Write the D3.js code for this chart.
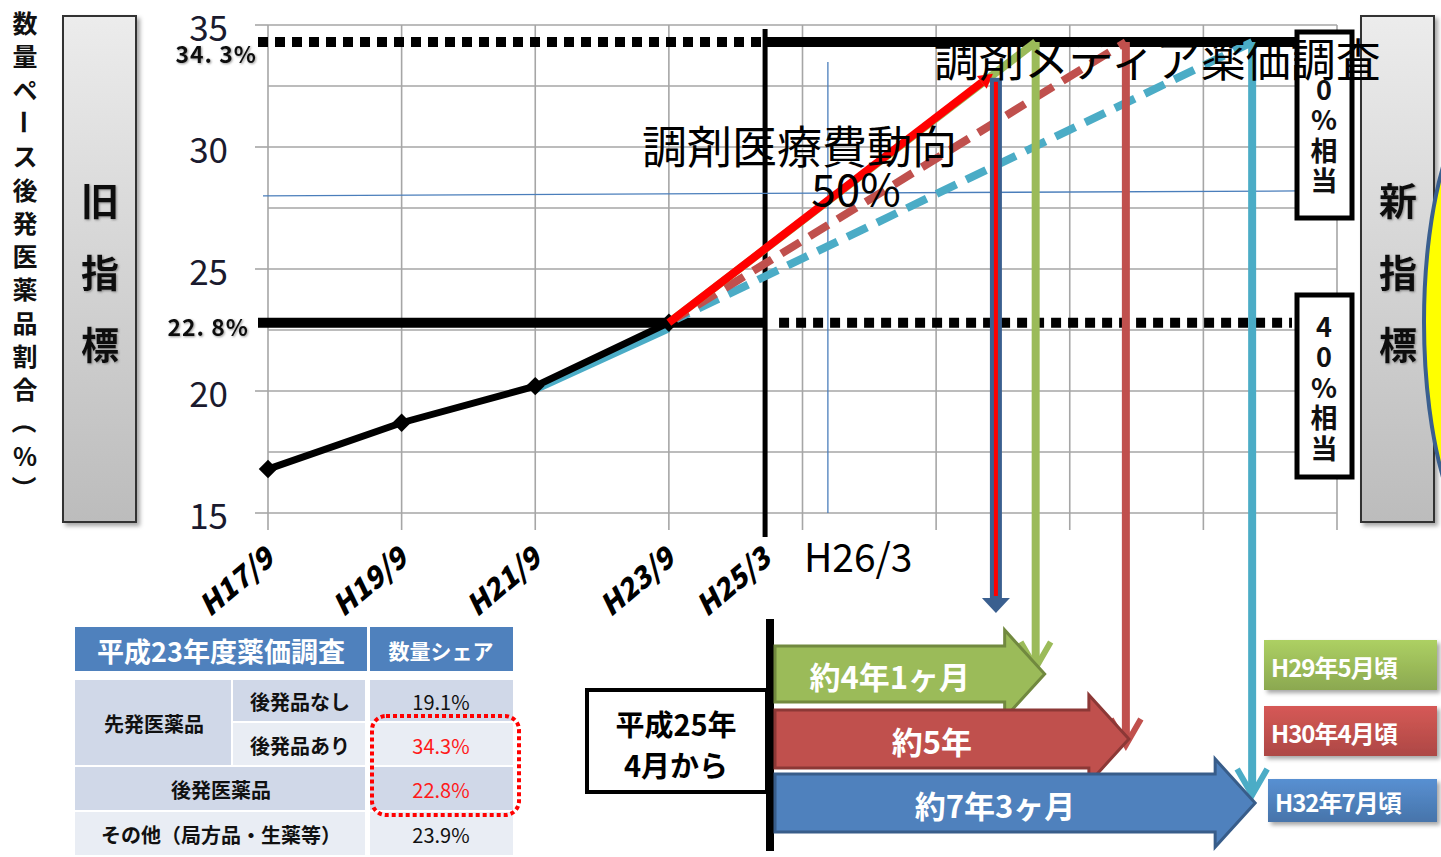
<!DOCTYPE html>
<html><head><meta charset="utf-8">
<script src="https://cdn.jsdelivr.net/npm/d3@7"></script>
<style>
body{margin:0;background:#fff;}
svg{display:block;}
text{font-family:"Noto Sans CJK JP","Noto Sans",sans-serif;}
</style>
</head><body>
<svg id="c" width="1441" height="857"></svg>
<script>
// ---------------- data ----------------
const actualTimes  = [17.75, 19.75, 21.75, 23.75];      // H17/9 .. H23/9 (Heisei year + month/12)
const actualValues = [16.8, 18.7, 20.2, 22.8];
const xTickLabels  = ["H17/9", "H19/9", "H21/9", "H23/9", "H25/3"];
const xTickTimes   = [17.75, 19.75, 21.75, 23.75, 25.19];
const gridTimes    = [17.75, 19.75, 21.75, 23.75, 25.75, 27.75, 29.75, 31.75, 33.75];
const yTickValues  = [15, 20, 25, 30, 35];
const yGridValues  = [15, 17.5, 20, 22.5, 25, 27.5, 30, 32.5, 35];
const oldTargetValues = [34.3, 22.8];
const oldTargetLabels = ["34. 3%", "22. 8%"];
const newTargetLabels = ["0%相当", "40%相当"];
const startTime = 25.19;      // H25/3
const h26Time   = 26.13;      // H26/3
const guideValues = [28.0, 28.2];
const trendStart = [23.75, 22.8];
const cyanBase = [[21.75, 20.05], [23.75, 22.55]];
const medFeeEnd = [28.6, 33.0];          // 調剤医療費動向 line end
const trendNames     = ["約4年1ヶ月", "約5年", "約7年3ヶ月"];
const trendEndTimes  = [29.24, 30.59, 32.48];
const trendEndLabels = ["H29年5月頃", "H30年4月頃", "H32年7月頃"];
const trendColors    = ["#9bbb59", "#c0504d", "#4bacc6"];
const bandColors     = ["#9bbb59", "#c0504d", "#4f81bd"];
const bandStrokes    = ["#71893f", "#8c3836", "#385d8a"];
const tableHeader = ["平成23年度薬価調査", "数量シェア"];
const tableLabels = ["後発品なし", "後発品あり", "後発医薬品", "その他（局方品・生薬等）"];
const tableShares = ["19.1%", "34.3%", "22.8%", "23.9%"];
const tableShareColors = ["#111", "#ff1a1a", "#ff1a1a", "#111"];
const yTitleChars = ["数","量","ペ","ー","ス","後","発","医","薬","品","割","合","（","%","）"];

// ---------------- setup ----------------
const svg = d3.select("#c");
const x = d3.scaleLinear().domain([17.75, 33.75]).range([268, 1337]);
const y = d3.scaleLinear().domain([15, 35]).range([513, 25]);
const defs = svg.append("defs");

const panelGrad = defs.append("linearGradient").attr("id","panelGrad").attr("x1",0).attr("y1",0).attr("x2",0).attr("y2",1);
panelGrad.append("stop").attr("offset","0%").attr("stop-color","#ececec");
panelGrad.append("stop").attr("offset","100%").attr("stop-color","#bcbcbc");
const shadow = defs.append("filter").attr("id","shadow").attr("x","-20%").attr("y","-20%").attr("width","140%").attr("height","140%");
shadow.append("feDropShadow").attr("dx",3).attr("dy",3).attr("stdDeviation",2).attr("flood-color","#000").attr("flood-opacity",0.35);
const glow = defs.append("filter").attr("id","glow");
glow.append("feDropShadow").attr("dx",1).attr("dy",1).attr("stdDeviation",1.2).attr("flood-color","#555").attr("flood-opacity",0.6);

["#9bbb59","#c0504d","#4f81bd"].forEach((c,i)=>{
  const g = defs.append("linearGradient").attr("id","lab"+i).attr("x1",0).attr("y1",0).attr("x2",0).attr("y2",1);
  g.append("stop").attr("offset","0%").attr("stop-color",d3.color(c).brighter(0.3));
  g.append("stop").attr("offset","100%").attr("stop-color",d3.color(c).darker(0.3));
});

// ---------------- side panels ----------------
function panel(x0, chars) {
  svg.append("rect").attr("x",x0).attr("y",16).attr("width",73).attr("height",506)
    .attr("fill","url(#panelGrad)").attr("stroke","#333").attr("stroke-width",2).attr("filter","url(#shadow)");
  chars.forEach((ch,i)=>{
    svg.append("text").attr("x",x0+37).attr("y",198+i*72).attr("text-anchor","middle").attr("dominant-baseline","central")
      .attr("font-size",38).attr("font-weight",700).attr("fill","#111").attr("filter","url(#glow)").text(ch);
  });
}
panel(63, ["旧","指","標"]);
panel(1361, ["新","指","標"]);
// yellow ellipse (right), overlapping the panel
svg.append("ellipse").attr("cx",1500).attr("cy",322).attr("rx",76).attr("ry",235)
  .attr("fill","#ffff00").attr("stroke","#3a5f8f").attr("stroke-width",4);

// y title
yTitleChars.forEach((ch,i)=>{
  const rot = (ch==="ー"||ch==="（"||ch==="）");
  const cy = 22+i*33.3;
  svg.append("text").attr("transform",`translate(25,${cy})${rot?" rotate(90)":""}`)
    .attr("text-anchor","middle").attr("dominant-baseline","central")
    .attr("font-size",25).attr("font-weight",700).attr("fill","#111").text(ch);
});

// ---------------- grid ----------------
const grid = svg.append("g");
grid.selectAll(".hg").data(yGridValues).join("line")
  .attr("x1",x(17.75)).attr("x2",x(33.75)).attr("y1",d=>y(d)).attr("y2",d=>y(d))
  .attr("stroke","#a6a6a6").attr("stroke-width",1.6);
grid.selectAll(".vg").data(gridTimes).join("line")
  .attr("x1",d=>x(d)).attr("x2",d=>x(d)).attr("y1",y(35)).attr("y2",y(15)+17)
  .attr("stroke","#a6a6a6").attr("stroke-width",1.6);
grid.selectAll(".yt").data(yTickValues).join("line")
  .attr("x1",x(17.75)-13).attr("x2",x(17.75)).attr("y1",d=>y(d)).attr("y2",d=>y(d))
  .attr("stroke","#a6a6a6").attr("stroke-width",1.6);

// y tick labels
svg.selectAll(".ylab").data(yTickValues).join("text")
  .attr("x",228).attr("y",d=>y(d)).attr("text-anchor","end").attr("dominant-baseline","central")
  .attr("font-family","Lato, sans-serif").attr("font-size",35).attr("fill","#1a1a2e").text(d=>d);

// x tick labels
xTickLabels.forEach((t,i)=>{
  const px = x(xTickTimes[i]) + 8;
  svg.append("text").attr("transform",`translate(${px},562) rotate(-40)`).attr("text-anchor","end")
    .attr("font-family","Lato, sans-serif").attr("font-size",29).attr("font-weight",900).attr("font-style","italic")
    .attr("fill","#000").text(t);
});

// ---------------- target lines ----------------
const xs = x(startTime);
svg.append("line").attr("x1",x(17.75)-10).attr("x2",xs).attr("y1",y(34.3)).attr("y2",y(34.3))
  .attr("stroke","#000").attr("stroke-width",10).attr("stroke-dasharray","10,7");
svg.append("line").attr("x1",xs).attr("x2",1296).attr("y1",y(34.3)).attr("y2",y(34.3))
  .attr("stroke","#000").attr("stroke-width",10);
svg.append("line").attr("x1",x(17.75)-10).attr("x2",xs).attr("y1",y(22.8)).attr("y2",y(22.8))
  .attr("stroke","#000").attr("stroke-width",10);
svg.append("line").attr("x1",xs+14).attr("x2",1292).attr("y1",y(22.8)).attr("y2",y(22.8))
  .attr("stroke","#000").attr("stroke-width",10).attr("stroke-dasharray","10,7");
svg.append("line").attr("x1",xs).attr("x2",xs).attr("y1",y(35)+4).attr("y2",y(15)+24)
  .attr("stroke","#000").attr("stroke-width",5);

oldTargetValues.forEach((v,i)=>{
  svg.append("text").attr("x", i===0?257:249).attr("y",y(v)+(i===0?11:3)).attr("text-anchor","end").attr("dominant-baseline","central")
    .attr("font-size",23).attr("font-weight",700).attr("fill","#111").attr("letter-spacing",1).attr("filter","url(#glow)").text(oldTargetLabels[i]);
});

// thin blue guide lines
svg.append("line").attr("x1",263).attr("x2",1300).attr("y1",y(guideValues[0])).attr("y2",y(guideValues[1]))
  .attr("stroke","#4a7ebb").attr("stroke-width",1.3);
svg.append("line").attr("x1",x(h26Time)).attr("x2",x(h26Time)).attr("y1",62).attr("y2",y(15))
  .attr("stroke","#4a7ebb").attr("stroke-width",1.3);
svg.append("text").attr("x",x(h26Time)-24).attr("y",572).attr("font-family","Liberation Sans, Arial, sans-serif")
  .attr("font-size",39).attr("fill","#000").text("H26/3");

// ---------------- trend lines ----------------
const line = d3.line().x(d=>x(d[0])).y(d=>y(d[1]));
svg.append("path").attr("d",line(cyanBase)).attr("stroke",trendColors[2]).attr("stroke-width",7).attr("fill","none");
[2,1,0].forEach(i=>{
  svg.append("path").attr("d",line([trendStart,[trendEndTimes[i],34.3]]))
    .attr("stroke",trendColors[i]).attr("stroke-width",8).attr("fill","none")
    .attr("stroke-dasharray", i===0 ? "none" : "22,11");
});
svg.append("path").attr("d",line(actualTimes.map((t,i)=>[t,actualValues[i]])))
  .attr("stroke","#000").attr("stroke-width",7).attr("fill","none");
svg.selectAll(".dia").data(actualTimes).join("path")
  .attr("d",d3.symbol(d3.symbolSquare,170))
  .attr("transform",(d,i)=>`translate(${x(d)},${y(actualValues[i])}) rotate(45)`)
  .attr("fill","#000");

// red solid (調剤医療費動向) with arrowhead
{
  const x0 = x(trendStart[0]), y0 = y(trendStart[1]), x1 = x(medFeeEnd[0]), y1 = y(medFeeEnd[1]);
  const ang = Math.atan2(y1-y0, x1-x0);
  const bx = x1 - 14*Math.cos(ang), by = y1 - 14*Math.sin(ang);
  svg.append("line").attr("x1",x0).attr("y1",y0).attr("x2",bx).attr("y2",by).attr("stroke","#ff0000").attr("stroke-width",8);
  const px = -Math.sin(ang), py = Math.cos(ang);
  svg.append("path").attr("d",`M${x1},${y1}L${bx+px*8},${by+py*8}L${bx-px*8},${by-py*8}Z`).attr("fill","#ff0000");
}

// ---------------- vertical arrows ----------------
const tipY = [668, 745, 795];
trendEndTimes.forEach((t,i)=>{
  const vx = x(t);
  svg.append("line").attr("x1",vx).attr("x2",vx).attr("y1",y(34.3)).attr("y2",tipY[i]-4)
    .attr("stroke",trendColors[i]).attr("stroke-width",8);
  svg.append("path").attr("d",`M${vx-15},${tipY[i]-26}L${vx},${tipY[i]}L${vx+15},${tipY[i]-26}`)
    .attr("stroke",trendColors[i]).attr("stroke-width",6).attr("fill","none");
});
{
  const vx = x(medFeeEnd[0]) + 3;
  svg.append("rect").attr("x",vx-6).attr("y",y(medFeeEnd[1])+4).attr("width",12).attr("height",596-y(medFeeEnd[1]))
    .attr("fill","#3a5f8f");
  svg.append("rect").attr("x",vx-2).attr("y",y(medFeeEnd[1])+8).attr("width",4).attr("height",588-y(medFeeEnd[1]))
    .attr("fill","#ff0000");
  svg.append("path").attr("d",`M${vx-14},598L${vx+14},598L${vx},613Z`).attr("fill","#3a5f8f");
}

// ---------------- right boxes ----------------
function vbox(y0, y1, chars, startY) {
  svg.append("rect").attr("x",1297).attr("y",y0).attr("width",55).attr("height",y1-y0)
    .attr("fill","#fff").attr("stroke","#000").attr("stroke-width",5);
  chars.forEach((ch,i)=>{
    svg.append("text").attr("x",1324).attr("y",startY+i*30.5).attr("text-anchor","middle").attr("dominant-baseline","central")
      .attr("font-size",27).attr("font-weight",700).attr("fill","#111").text(ch);
  });
}
vbox(32, 218, Array.from(newTargetLabels[0]), 88);
vbox(295, 477, Array.from(newTargetLabels[1]), 325);

// ---------------- big texts ----------------
svg.append("text").attr("x",642).attr("y",164).attr("font-size",45).attr("fill","#000").text("調剤医療費動向");
svg.append("text").attr("x",856).attr("y",206).attr("text-anchor","middle").attr("font-family","Liberation Sans, Arial, sans-serif")
  .attr("font-size",44).attr("fill","#000").text("50%");
svg.append("text").attr("x",934).attr("y",77).attr("font-size",45).attr("fill","#000").text("調剤メディア薬価調査");

// ---------------- timeline ----------------
svg.append("line").attr("x1",770).attr("x2",770).attr("y1",619).attr("y2",851).attr("stroke","#000").attr("stroke-width",8);
svg.append("rect").attr("x",587).attr("y",690).attr("width",180).attr("height",102).attr("fill","#fff").attr("stroke","#000").attr("stroke-width",4);
svg.append("text").attr("x",676).attr("y",723).attr("text-anchor","middle").attr("dominant-baseline","central")
  .attr("font-size",29).attr("font-weight",700).text("平成25年");
svg.append("text").attr("x",676).attr("y",764).attr("text-anchor","middle").attr("dominant-baseline","central")
  .attr("font-size",29).attr("font-weight",700).text("4月から");

const bandY = [[646,702],[710,768],[774,832]];
trendNames.forEach((name,i)=>{
  const tip = x(trendEndTimes[i]) + (i===0?9:3);
  const hl = 40, hh = 44;
  const [t0,b0] = bandY[i]; const cy = (t0+b0)/2;
  const x0 = 775, hb = tip-hl;
  svg.append("path")
    .attr("d",`M${x0},${t0}L${hb},${t0}L${hb},${cy-hh}L${tip},${cy}L${hb},${cy+hh}L${hb},${b0}L${x0},${b0}Z`)
    .attr("fill",bandColors[i]).attr("stroke",bandStrokes[i]).attr("stroke-width",3);
  svg.append("text").attr("x",(x0+hb)/2).attr("y",cy+1).attr("text-anchor","middle").attr("dominant-baseline","central")
    .attr("font-size",31).attr("font-weight",700).attr("fill","#fff").text(name);
});

const labY = [[640,690],[706,756],[779,822]];
trendEndLabels.forEach((l,i)=>{
  const x0 = i===2 ? 1268 : 1264;
  svg.append("rect").attr("x",x0).attr("y",labY[i][0]).attr("width",1437-x0).attr("height",labY[i][1]-labY[i][0])
    .attr("fill",`url(#lab${i})`).attr("filter","url(#shadow)");
  svg.append("text").attr("x",x0+7).attr("y",(labY[i][0]+labY[i][1])/2+1).attr("dominant-baseline","central")
    .attr("font-size",24).attr("font-weight",700).attr("fill","#fff").attr("letter-spacing",-1).text(l);
});

// ---------------- table ----------------
const tb = svg.append("g");
const dark = "#d0d8e8", light = "#e9edf4";
tb.append("rect").attr("x",75).attr("y",627).attr("width",292).attr("height",44).attr("fill","#4f81bd");
tb.append("rect").attr("x",370).attr("y",627).attr("width",143).attr("height",44).attr("fill","#4f81bd");
tb.append("text").attr("x",221).attr("y",650).attr("text-anchor","middle").attr("dominant-baseline","central")
  .attr("font-size",27).attr("font-weight",700).attr("fill","#fff").text(tableHeader[0]);
tb.append("text").attr("x",441).attr("y",650).attr("text-anchor","middle").attr("dominant-baseline","central")
  .attr("font-size",21).attr("font-weight",700).attr("fill","#fff").text(tableHeader[1]);
const rowY = [680, 723, 767, 812, 857];
const cells = [
  [75,233,0,2,dark,"先発医薬品"],
  [233,367,0,1,dark,tableLabels[0]],
  [233,367,1,2,light,tableLabels[1]],
  [75,367,2,3,dark,tableLabels[2]],
  [75,367,3,4,light,tableLabels[3]],
];
cells.forEach(c=>{
  tb.append("rect").attr("x",c[0]).attr("y",rowY[c[2]]).attr("width",c[1]-c[0]-2).attr("height",rowY[c[3]]-rowY[c[2]]-2).attr("fill",c[4]);
  tb.append("text").attr("x",(c[0]+c[1])/2).attr("y",(rowY[c[2]]+rowY[c[3]])/2).attr("text-anchor","middle").attr("dominant-baseline","central")
    .attr("font-size",20).attr("font-weight",700).attr("fill","#111").text(c[5]);
});
tableShares.forEach((s,i)=>{
  tb.append("rect").attr("x",370).attr("y",rowY[i]).attr("width",143).attr("height",rowY[i+1]-rowY[i]-2).attr("fill", i%2===0?dark:light);
  tb.append("text").attr("x",441).attr("y",(rowY[i]+rowY[i+1])/2).attr("text-anchor","middle").attr("dominant-baseline","central")
    .attr("font-family","Liberation Sans, Arial, sans-serif").attr("font-size",20).attr("fill",tableShareColors[i]).text(s);
});
tb.append("rect").attr("x",372).attr("y",716).attr("width",147).attr("height",99).attr("rx",14)
  .attr("fill","none").attr("stroke","#ff0000").attr("stroke-width",4).attr("stroke-dasharray","4,3");
</script>
</body></html>
